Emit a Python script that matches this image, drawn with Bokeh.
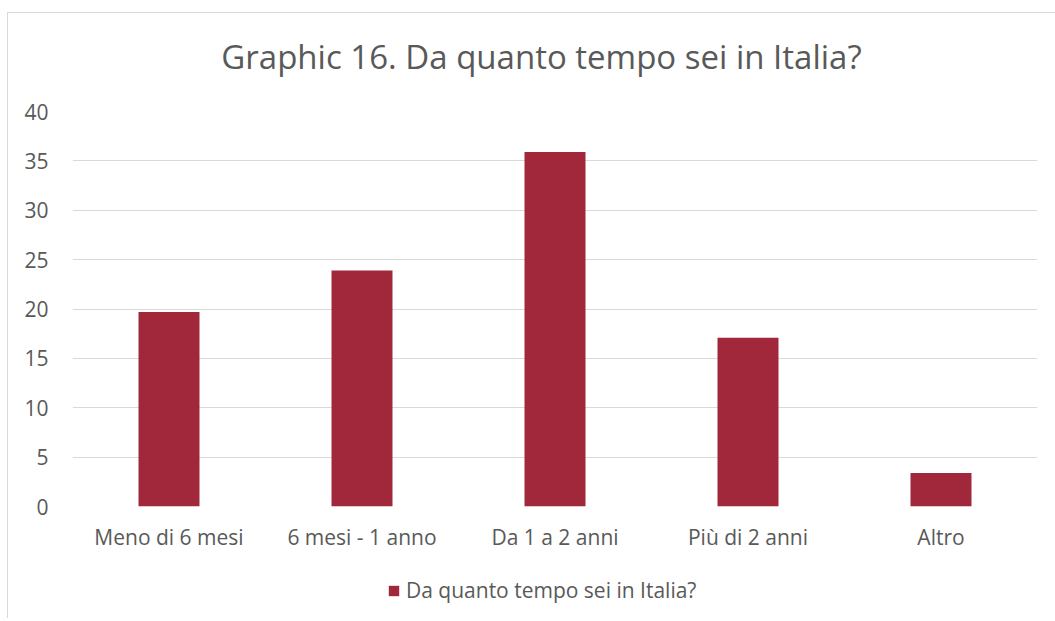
from bokeh.plotting import figure
from bokeh.layouts import column
from bokeh.models import (ColumnDataSource, FactorRange, Range1d, SingleIntervalTicker,
                          Legend, LegendItem, Label)
from bokeh.embed import file_html
from bokeh.resources import INLINE

categories = ["Meno di 6 mesi", "6 mesi - 1 anno", "Da 1 a 2 anni", "Più di 2 anni", "Altro"]
values = [19.7, 23.9, 35.9, 17.1, 3.4]
series_name = "Da quanto tempo sei in Italia?"
title_text = "Graphic 16. Da quanto tempo sei in Italia?"

FONT = "Open Sans"
GREY = "#595959"
BAR = "#A0283A"

src = ColumnDataSource(dict(cat=categories, val=values))

# ---- title strip ----
tf = figure(width=1047, height=85, x_range=Range1d(0, 1), y_range=Range1d(0, 1),
            output_backend="svg", toolbar_location=None,
            x_axis_location=None, y_axis_location=None,
            min_border=0, min_border_left=64, min_border_right=18)
tf.outline_line_color = None
tf.grid.visible = False
tf.add_layout(Label(x=469, x_units="screen", y=0.5, text=title_text,
                    text_align="center", text_baseline="middle",
                    text_font=FONT, text_font_size="33px", text_color=GREY))

# ---- main chart ----
p = figure(x_range=FactorRange(*categories), y_range=Range1d(0, 40),
           frame_width=965, frame_height=395, output_backend="svg", toolbar_location=None,
           min_border_left=64, min_border_right=18, min_border_top=13, min_border_bottom=60)

r = p.vbar(x="cat", top="val", width=0.316, source=src, fill_color=BAR, line_color=None)

p.yaxis.ticker = SingleIntervalTicker(interval=5)
for ax in (p.xaxis, p.yaxis):
    ax.axis_line_color = None
    ax.major_tick_line_color = None
    ax.minor_tick_line_color = None
    ax.major_tick_out = 0
    ax.major_tick_in = 0
    ax.minor_tick_out = 0
    ax.minor_tick_in = 0
    ax.major_label_text_font = FONT
    ax.major_label_text_font_size = "21px"
    ax.major_label_text_color = GREY
p.yaxis.major_label_standoff = 24
p.xaxis.major_label_standoff = 16

p.xgrid.grid_line_color = None
p.ygrid.grid_line_color = "#D9D9D9"
p.ygrid.grid_line_width = 1
p.outline_line_color = None

# ---- legend strip ----
lf = figure(width=1047, height=52, x_range=FactorRange(*categories), y_range=Range1d(-2, -1),
            output_backend="svg", toolbar_location=None,
            x_axis_location=None, y_axis_location=None,
            min_border=0, min_border_left=64, min_border_right=18)
lf.outline_line_color = None
lf.grid.visible = False
lr = lf.vbar(x="cat", top="val", width=0.316, source=src, fill_color=BAR, line_color=None,
             muted_alpha=0)
lr.muted = True
legend = Legend(items=[LegendItem(label=series_name, renderers=[lr])],
                orientation="horizontal", location=(315, 14),
                label_text_font=FONT, label_text_font_size="21px", label_text_color=GREY,
                glyph_width=13, glyph_height=13, label_standoff=6, label_height=25,
                padding=0, margin=0,
                border_line_color=None, background_fill_alpha=0)
lf.add_layout(legend)

layout = column(tf, p, lf, spacing=0,
                styles={"border-left": "1px solid #D9D9D9", "border-top": "1px solid #D9D9D9",
                        "margin-left": "7px", "margin-top": "12px"})

open("out.html", "w").write(file_html(layout, INLINE))
